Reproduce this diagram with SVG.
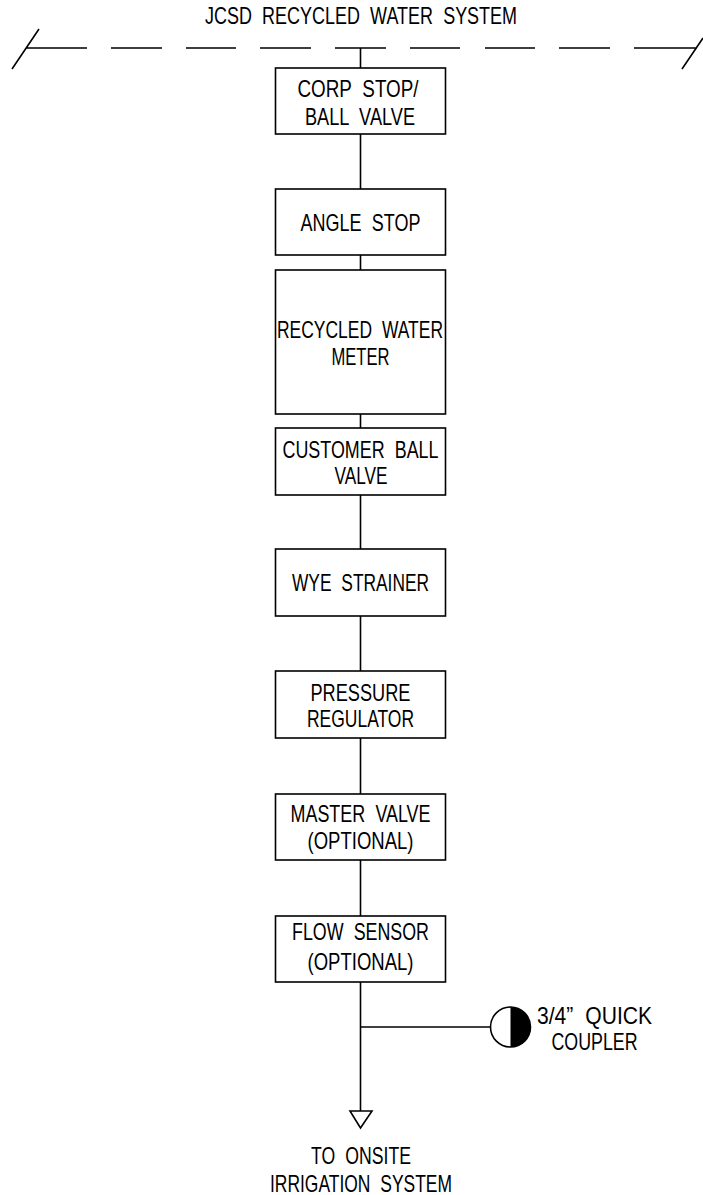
<svg xmlns="http://www.w3.org/2000/svg" width="703" height="1195" viewBox="0 0 703 1195">
<style>
.l{fill:none;stroke:#000;stroke-width:1.6}
.b{fill:#fff;stroke:#000;stroke-width:1.6}
text{font-family:"Liberation Sans",Arial,sans-serif;font-size:24px;fill:#000;text-anchor:middle;word-spacing:7px}
</style>
<rect width="703" height="1195" fill="#fff"/>
<g id="connectors">
<path class="l" d="M12 69L39 29M26 48H87M111 48H162M186 48H236M260 48H311M335 48H386M410 48H460M485 48H535M559 48H610M634 48H697M682 69L703 38" />
<path class="l" d="M360.500 48V68M360.500 134V189M360.500 255V270M360.500 414V428M360.500 495V549M360.500 616V671M360.500 738V794M360.500 860V916M360.500 982V1111M360.500 1027H491"/>
</g>
<g id="title"><text x="361" y="24" textLength="312" lengthAdjust="spacingAndGlyphs">JCSD RECYCLED WATER SYSTEM</text></g>
<g id="corp-stop"><rect class="b" x="275.500" y="68" width="170" height="66"/><text x="358" y="97" textLength="121" lengthAdjust="spacingAndGlyphs">CORP STOP/</text><text x="360" y="125" textLength="110" lengthAdjust="spacingAndGlyphs">BALL VALVE</text></g>
<g id="angle-stop"><rect class="b" x="275.500" y="189" width="170" height="66"/><text x="360.500" y="231" textLength="120" lengthAdjust="spacingAndGlyphs">ANGLE STOP</text></g>
<g id="meter"><rect class="b" x="275.500" y="270" width="170" height="144"/><text x="360" y="338" textLength="166" lengthAdjust="spacingAndGlyphs">RECYCLED WATER</text><text x="360.500" y="365" textLength="58" lengthAdjust="spacingAndGlyphs">METER</text></g>
<g id="customer-ball-valve"><rect class="b" x="275.500" y="428" width="170" height="67"/><text x="360.500" y="458" textLength="156" lengthAdjust="spacingAndGlyphs">CUSTOMER BALL</text><text x="361" y="484" textLength="53" lengthAdjust="spacingAndGlyphs">VALVE</text></g>
<g id="wye-strainer"><rect class="b" x="275.500" y="549" width="170" height="67"/><text x="360.500" y="591" textLength="137" lengthAdjust="spacingAndGlyphs">WYE STRAINER</text></g>
<g id="pressure-regulator"><rect class="b" x="275.500" y="671" width="170" height="67"/><text x="360.500" y="701" textLength="100" lengthAdjust="spacingAndGlyphs">PRESSURE</text><text x="360.500" y="727" textLength="107" lengthAdjust="spacingAndGlyphs">REGULATOR</text></g>
<g id="master-valve"><rect class="b" x="275.500" y="794" width="170" height="66"/><text x="360.500" y="822" textLength="140" lengthAdjust="spacingAndGlyphs">MASTER VALVE</text><text x="360.500" y="849" textLength="106" lengthAdjust="spacingAndGlyphs">(OPTIONAL)</text></g>
<g id="flow-sensor"><rect class="b" x="275.500" y="916" width="170" height="66"/><text x="360.500" y="940" textLength="137" lengthAdjust="spacingAndGlyphs">FLOW SENSOR</text><text x="360.500" y="970" textLength="106" lengthAdjust="spacingAndGlyphs">(OPTIONAL)</text></g>
<g id="quick-coupler"><circle class="b" cx="510.500" cy="1027" r="20"/><path d="M510.500 1007A20 20 0 0 1 510.500 1047Z"/><text x="594.500" y="1024" textLength="115" lengthAdjust="spacingAndGlyphs">3/4” QUICK</text><text x="594.500" y="1050" textLength="86" lengthAdjust="spacingAndGlyphs">COUPLER</text></g>
<g id="outlet"><path class="l" d="M350 1111H372L360.500 1128Z"/><text x="361" y="1164" textLength="100" lengthAdjust="spacingAndGlyphs">TO ONSITE</text><text x="361" y="1192" textLength="182" lengthAdjust="spacingAndGlyphs">IRRIGATION SYSTEM</text></g>
</svg>
